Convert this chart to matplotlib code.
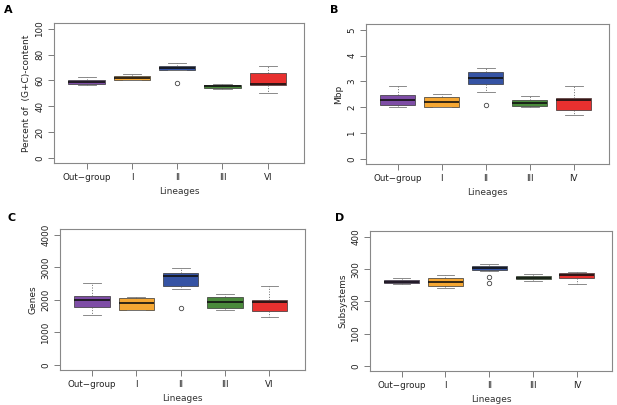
import matplotlib.pyplot as plt
import numpy as np

colors = ["#7E4DA6", "#F5A733", "#3553A4", "#4A8A3B", "#E8302F"]

# panel A: GC content (%)
labels_a = ["Out\u2212group", "I", "II", "III", "VI"]
a_q1 = [57.1, 60.2, 68.0, 54.3, 56.6]
a_med = [58.4, 61.5, 69.3, 55.3, 57.6]
a_q3 = [60.2, 63.3, 71.1, 56.3, 65.9]
a_lo = [56.1, 60.0, 67.7, 53.5, 49.9]
a_hi = [62.8, 64.9, 73.6, 57.2, 71.3]
a_fl = [[], [], [57.9], [], []]

# panel B: genome size (Mbp)
labels_b = ["Out\u2212group", "I", "II", "III", "IV"]
b_q1 = [2.07, 2.01, 2.89, 2.06, 1.89]
b_med = [2.29, 2.20, 3.13, 2.16, 2.27]
b_q3 = [2.49, 2.41, 3.36, 2.29, 2.37]
b_lo = [2.00, 2.00, 2.59, 2.00, 1.70]
b_hi = [2.82, 2.51, 3.53, 2.44, 2.81]
b_fl = [[], [], [2.09], [], []]

# panel C: genes
labels_c = ["Out\u2212group", "I", "II", "III", "VI"]
c_q1 = [1764, 1690, 2421, 1744, 1651]
c_med = [2010, 1897, 2728, 1918, 1918]
c_q3 = [2133, 2070, 2831, 2072, 2010]
c_lo = [1538, 1682, 2338, 1682, 1477]
c_hi = [2533, 2075, 2985, 2185, 2431]
c_fl = [[], [], [1733], [], []]

# panel D: subsystems
labels_d = ["Out\u2212group", "I", "II", "III", "IV"]
d_q1 = [256.4, 246.2, 297.4, 268.7, 273.8]
d_med = [260.5, 259.5, 304.6, 273.8, 281.0]
d_q3 = [265.6, 273.8, 308.7, 279.0, 288.2]
d_lo = [252.3, 241.0, 294.4, 261.5, 254.4]
d_hi = [271.8, 281.0, 315.9, 284.0, 292.3]
d_fl = [[], [], [275.9, 256.4], [], []]

fig = plt.figure(figsize=(6.17, 4.05), dpi=100)
W, H = 617, 405


def px_axes(x0, y0, x1, y1):
    return fig.add_axes([x0 / W, 1 - y1 / H, (x1 - x0) / W, (y1 - y0) / H])


def panel(ax, letter, lxy, labels, q1, med, q3, lo, hi, fl, ylabel, yticks, ymax):
    stats = []
    for i in range(len(labels)):
        stats.append(dict(q1=q1[i], med=med[i], q3=q3[i], whislo=lo[i],
                          whishi=hi[i], fliers=fl[i]))
    bp = ax.bxp(stats, positions=range(1, 6), widths=0.8, patch_artist=True,
                boxprops=dict(linewidth=0.5, edgecolor="#333333"),
                medianprops=dict(color="#111111", linewidth=1.2),
                whiskerprops=dict(linestyle=(0, (1.2, 2)), linewidth=0.6, color="#555555"),
                capprops=dict(linewidth=0.6, color="#777777"),
                capwidths=0.4,
                flierprops=dict(marker="o", markersize=3.2, markerfacecolor="none",
                                markeredgecolor="#444444", markeredgewidth=0.6))
    for patch, c in zip(bp["boxes"], colors):
        patch.set_facecolor(c)
    ax.set_xlim(0.28, 5.8)
    ax.set_ylim(-0.04 * ymax, 1.045 * ymax)
    ax.set_xticks(range(1, 6))
    ax.set_xticklabels(labels, fontsize=6.3)
    ax.set_yticks(yticks)
    ax.set_yticklabels([str(t) for t in yticks], rotation=90, va="center",
                       fontsize=6.3)
    ax.tick_params(length=4, width=0.6, colors="#666666", labelcolor="#222222",
                   pad=3)
    for s in ax.spines.values():
        s.set_color("#888888")
        s.set_linewidth(0.8)
    ax.set_xlabel("Lineages", fontsize=6.5, color="#333333", labelpad=4)
    ax.set_ylabel(ylabel, fontsize=6.5, color="#222222", labelpad=3)
    fig.text(lxy[0] / W, 1 - lxy[1] / H, letter, fontsize=8,
             fontweight="bold", ha="left", va="center")


ax_a = px_axes(54, 23, 304, 163)
panel(ax_a, "A", (4, 10), labels_a, a_q1, a_med, a_q3, a_lo, a_hi, a_fl,
      "Percent of  (G+C)-content", [0, 20, 40, 60, 80, 100], 100)

ax_b = px_axes(366, 24, 609, 164)
panel(ax_b, "B", (330, 10), labels_b, b_q1, b_med, b_q3, b_lo, b_hi, b_fl,
      "Mbp", [0, 1, 2, 3, 4, 5], 5)

ax_c = px_axes(60, 229, 305, 370)
panel(ax_c, "C", (8, 218), labels_c, c_q1, c_med, c_q3, c_lo, c_hi, c_fl,
      "Genes", [0, 1000, 2000, 3000, 4000], 4000)

ax_d = px_axes(370, 231, 612, 371)
panel(ax_d, "D", (335, 218), labels_d, d_q1, d_med, d_q3, d_lo, d_hi, d_fl,
      "Subsystems", [0, 100, 200, 300, 400], 400)

fig.savefig("out.png", dpi=100)
